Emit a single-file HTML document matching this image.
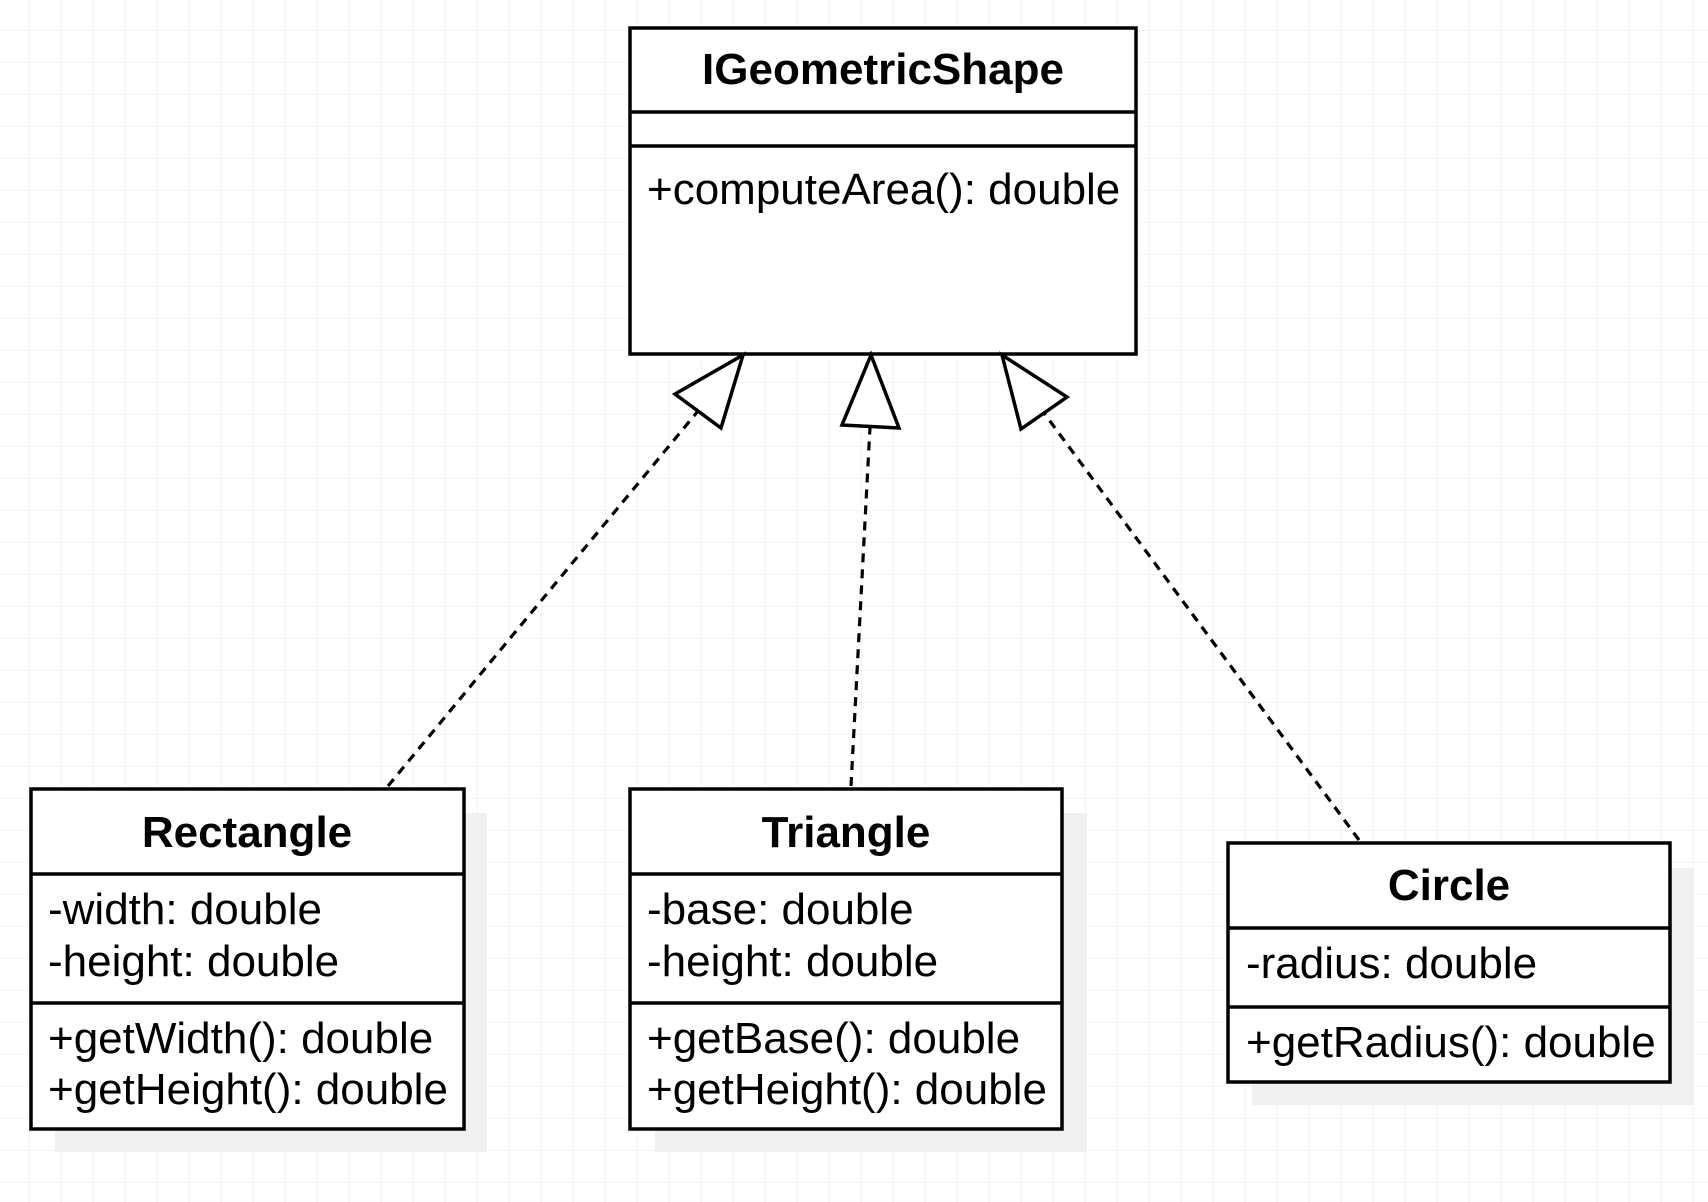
<!DOCTYPE html>
<html><head><meta charset="utf-8"><style>
html,body{margin:0;padding:0;background:#fff}
svg{display:block}
text{font-family:"Liberation Sans",Arial,sans-serif;font-size:44px;fill:#000}
.b{font-weight:bold}
</style></head><body>
<svg width="1708" height="1202" viewBox="0 0 1708 1202" xmlns="http://www.w3.org/2000/svg">
<defs>
<pattern id="g" x="29" y="30" width="32" height="32" patternUnits="userSpaceOnUse">
<path d="M0 0H32M0 0V32" stroke="#ebebeb" stroke-width="1" fill="none"/>
</pattern>
</defs>
<rect width="1708" height="1202" fill="url(#g)"/>
<g fill="#f0f0f0">
<rect x="55" y="813" width="432" height="339"/>
<rect x="655" y="813" width="432" height="339"/>
<rect x="1252" y="868" width="442" height="237"/>
</g>
<g stroke="#000" stroke-width="3.5" fill="#fff">
<rect x="630" y="28" width="506" height="326"/>
<line x1="630" y1="112" x2="1136" y2="112"/>
<line x1="630" y1="146" x2="1136" y2="146"/>
<rect x="31" y="789" width="433" height="340"/>
<line x1="31" y1="874" x2="464" y2="874"/>
<line x1="31" y1="1003" x2="464" y2="1003"/>
<rect x="630" y="789" width="432" height="340"/>
<line x1="630" y1="874" x2="1062" y2="874"/>
<line x1="630" y1="1003" x2="1062" y2="1003"/>
<rect x="1228" y="843" width="442" height="239"/>
<line x1="1228" y1="928" x2="1670" y2="928"/>
<line x1="1228" y1="1007" x2="1670" y2="1007"/>
</g>
<g stroke="#000" stroke-width="3.2" stroke-dasharray="9 7" fill="none">
<line x1="388" y1="786" x2="698" y2="411"/>
<line x1="851" y1="786" x2="870" y2="427"/>
<line x1="1359" y1="840" x2="1044" y2="413"/>
</g>
<g stroke="#000" stroke-width="3.5" fill="#fff">
<polygon points="743,355 675,394 721,428"/>
<polygon points="871,355 842,425 899,428"/>
<polygon points="1002,355 1021,429 1067,397"/>
</g>
<text class="b" x="883" y="84" text-anchor="middle">IGeometricShape</text>
<text x="647" y="204">+computeArea(): double</text>
<text class="b" x="247" y="847" text-anchor="middle">Rectangle</text>
<text x="48" y="924">-width: double</text>
<text x="48" y="976">-height: double</text>
<text x="48" y="1053">+getWidth(): double</text>
<text x="48" y="1104">+getHeight(): double</text>
<text class="b" x="846" y="847" text-anchor="middle">Triangle</text>
<text x="647" y="924">-base: double</text>
<text x="647" y="976">-height: double</text>
<text x="647" y="1053">+getBase(): double</text>
<text x="647" y="1104">+getHeight(): double</text>
<text class="b" x="1449" y="900" text-anchor="middle">Circle</text>
<text x="1246" y="978">-radius: double</text>
<text x="1246" y="1057">+getRadius(): double</text>
</svg>
</body></html>
